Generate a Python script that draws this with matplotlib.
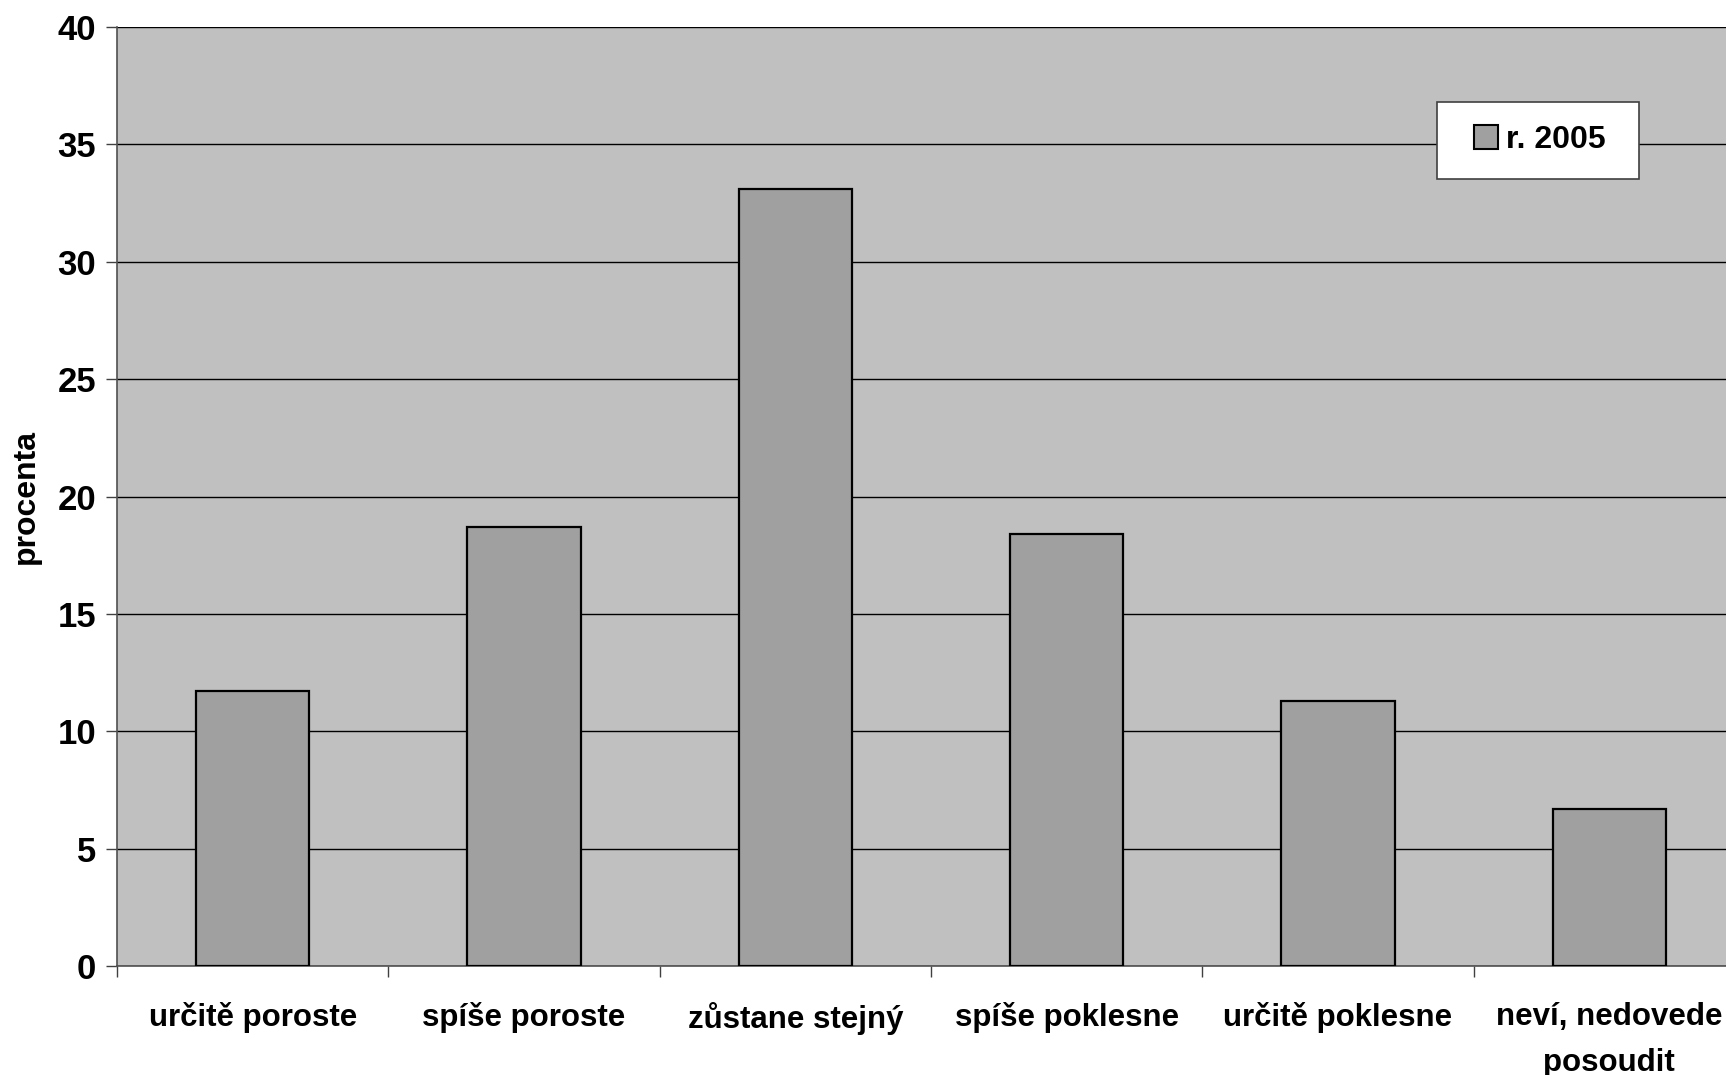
import matplotlib.pyplot as plt
from matplotlib.patches import Rectangle
import numpy as np

categories = ["určitě poroste", "spíše poroste", "zůstane stejný",
              "spíše poklesne", "určitě poklesne", "neví, nedovede\nposoudit"]
values_2005 = [11.7, 18.7, 33.1, 18.4, 11.3, 6.7]
yticks = [0, 5, 10, 15, 20, 25, 30, 35, 40]

plt.rcParams['font.family'] = ['Liberation Sans', 'DejaVu Sans']
plt.rcParams['font.weight'] = 'bold'

W, H = 1726, 1075
fig = plt.figure(figsize=(W / 100, H / 100), dpi=100)
# plot area runs past the right edge of the picture, as in the original
ax = fig.add_axes([117 / W, 109 / H, 1628 / W, 939 / H])
ax.set_facecolor('#C0C0C0')

x = np.arange(len(categories))
ax.bar(x, values_2005, width=0.417, color='#A0A0A0', edgecolor='black',
       linewidth=1.6, label='r. 2005', zorder=3)

ax.set_xlim(-0.5, len(categories) - 0.5)
ax.set_ylim(0, 40)
ax.set_yticks(yticks)
ax.yaxis.grid(True, color='black', linewidth=1.0, zorder=1)
ax.set_axisbelow(True)

ax.set_xticks(x)
ax.set_xticklabels(categories, fontsize=22.5, fontweight='bold', linespacing=1.7)
ax.set_xticks(np.arange(len(categories) + 1) - 0.5, minor=True)
ax.tick_params(axis='x', which='major', length=0, pad=26)
ax.tick_params(axis='x', which='minor', length=8, width=1, color='#404040')
ax.tick_params(axis='y', length=8, width=1, color='#404040', labelsize=25, pad=7)
for lab in ax.get_yticklabels():
    lab.set_fontweight('bold')

for side in ['top', 'right']:
    ax.spines[side].set_visible(False)
for side in ['left', 'bottom']:
    ax.spines[side].set_color('#505050')
    ax.spines[side].set_linewidth(1.2)

ax.set_ylabel('procenta', fontsize=23, fontweight='bold', labelpad=12)

# legend box is wider than matplotlib's padding gives, so draw it separately
box = Rectangle((1437 / W, (H - 179) / H), 202 / W, 77 / H,
                transform=fig.transFigure, facecolor='white',
                edgecolor='#404040', linewidth=1.2, clip_on=False, zorder=4)
ax.add_patch(box)

leg = ax.legend(loc='center', bbox_to_anchor=(1540 / W, (H - 140) / H),
                bbox_transform=fig.transFigure, fontsize=23, frameon=False,
                handlelength=0.75, handleheight=0.75, handletextpad=0.25,
                borderpad=0.0, borderaxespad=0)
leg.set_zorder(5)
for t in leg.get_texts():
    t.set_fontweight('bold')
for h in leg.legend_handles:
    h.set_linewidth(1.5)

fig.savefig('out.png', dpi=100)
